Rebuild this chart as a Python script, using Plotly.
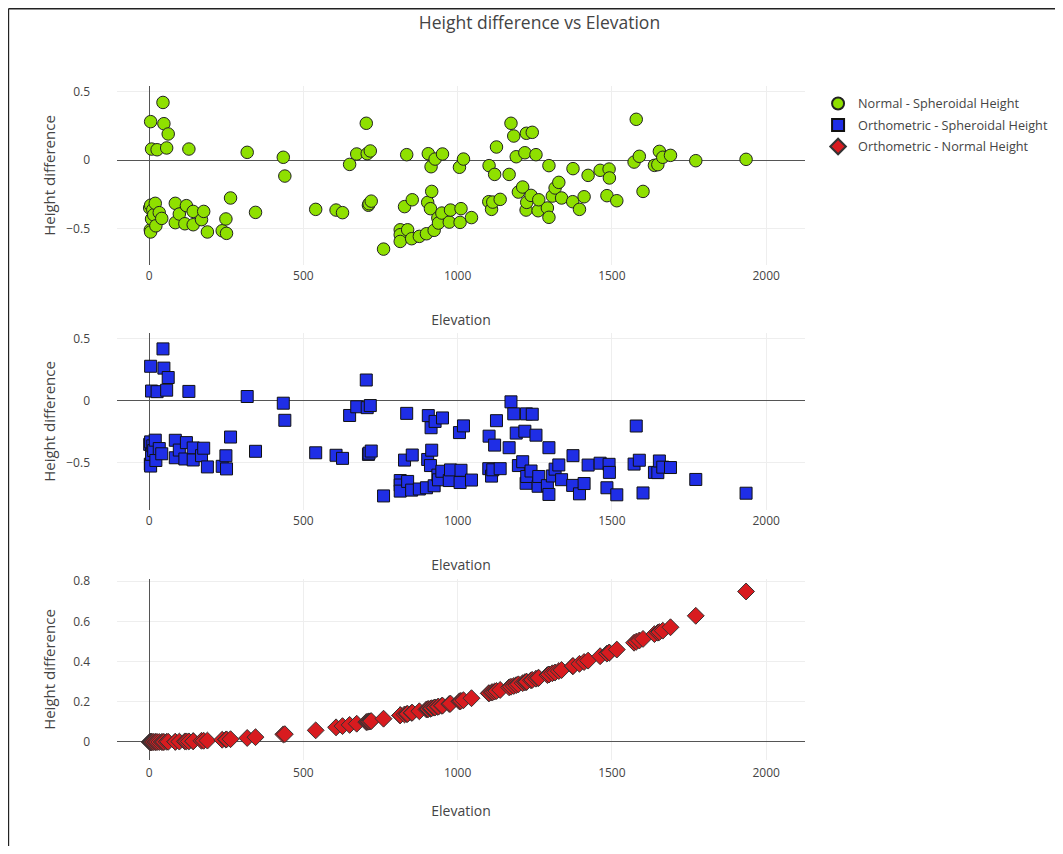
import plotly.graph_objects as go

elevation = [2, 4, 5, 5, 5, 8, 8, 12, 15, 20, 22, 26, 33, 41, 45, 48, 57, 62, 85, 85,
             98, 116, 121, 129, 143, 143, 170, 177, 189, 237, 249, 251, 264, 318, 345, 435, 440,
             540, 606, 627, 650, 673, 704, 707, 711, 713, 717, 720, 760, 814, 814, 814, 828, 835,
             838, 851, 853, 876, 899, 903, 905, 912, 914, 916, 924, 927, 936, 938, 949, 951, 973,
             977, 1006, 1008, 1011, 1019, 1045, 1101, 1102, 1110, 1114, 1120, 1126, 1138, 1167,
             1173, 1182, 1190, 1197, 1211, 1218, 1222, 1223, 1224, 1238, 1242, 1254, 1261, 1263,
             1291, 1296, 1296, 1307, 1316, 1328, 1337, 1373, 1374, 1395, 1410, 1423, 1462, 1484,
             1491, 1492, 1516, 1572, 1579, 1589, 1601, 1638, 1649, 1654, 1665, 1690, 1772, 1935]

normal_spheroidal = [-0.35, -0.51, 0.28, -0.525, -0.33, 0.08, -0.43, -0.362, -0.40, -0.316, -0.48,
                     0.075, -0.384, -0.426, 0.42, 0.265, 0.088, 0.19, -0.316, -0.457,
                     -0.394, -0.465, -0.333, 0.08, -0.375, -0.472, -0.435, -0.375, -0.525, -0.516,
                     -0.43, -0.535, -0.277, 0.056, -0.382, 0.02, -0.117,
                     -0.36, -0.365, -0.384, -0.032, 0.044, 0.268, 0.046, -0.33, -0.319, 0.066, -0.30,
                     -0.65, -0.509, -0.545, -0.594, -0.34, 0.039,
                     -0.509, -0.574, -0.29, -0.557, -0.538, -0.309, 0.046, -0.355, -0.049, -0.229,
                     -0.513, 0.007, -0.423, -0.46, -0.387, 0.044, -0.453,
                     -0.365, -0.053, -0.455, -0.355, 0.007, -0.42, -0.304, -0.041, -0.36, -0.307,
                     -0.105, 0.095, -0.287, -0.105,
                     0.268, 0.175, 0.024, -0.234, -0.197, 0.053, -0.365, 0.195, -0.309, -0.258, 0.202,
                     0.039, -0.37, -0.29,
                     -0.35, -0.041, -0.418, -0.263, -0.204, -0.163, -0.277, -0.304, -0.063, -0.36,
                     -0.268, -0.112, -0.075, -0.26,
                     -0.066, -0.131, -0.297, -0.015, 0.297, 0.027, -0.229, -0.039, -0.034, 0.063,
                     0.02, 0.034, -0.005, 0.005]

orthometric_spheroidal = [-0.35, -0.51, 0.28, -0.525, -0.33, 0.08, -0.43, -0.362, -0.40, -0.316, -0.48,
                          0.075, -0.384, -0.426, 0.42, 0.265, 0.087, 0.189, -0.317, -0.458,
                          -0.396, -0.468, -0.336, 0.077, -0.379, -0.476, -0.441, -0.381, -0.532, -0.527,
                          -0.442, -0.548, -0.291, 0.036, -0.406, -0.018, -0.156,
                          -0.418, -0.438, -0.463, -0.117, -0.047, 0.169, -0.054, -0.431, -0.421, -0.037,
                          -0.404, -0.766, -0.642, -0.678, -0.727, -0.477, -0.100,
                          -0.649, -0.719, -0.436, -0.710, -0.700, -0.472, -0.118, -0.521, -0.216, -0.397,
                          -0.684, -0.165, -0.598, -0.636, -0.567, -0.137, -0.642,
                          -0.556, -0.255, -0.658, -0.559, -0.201, -0.638, -0.546, -0.284, -0.606, -0.555,
                          -0.356, -0.159, -0.546, -0.377,
                          -0.007, -0.104, -0.259, -0.521, -0.490, -0.244, -0.664, -0.104, -0.609, -0.565,
                          -0.107, -0.276, -0.688, -0.609,
                          -0.683, -0.377, -0.754, -0.605, -0.550, -0.516, -0.635, -0.681, -0.441, -0.749,
                          -0.666, -0.517, -0.502, -0.700,
                          -0.511, -0.576, -0.757, -0.509, -0.202, -0.478, -0.742, -0.576, -0.578, -0.484,
                          -0.534, -0.537, -0.633, -0.744]

orthometric_normal = [0.0, 0.0, 0.0, 0.0, 0.0, 0.0, 0.0, 0.0, 0.0, 0.0, 0.0, 0.0, 0.0, 0.0, 0.0, 0.0,
                      0.001, 0.001, 0.001, 0.001,
                      0.002, 0.003, 0.003, 0.003, 0.004, 0.004, 0.006, 0.006, 0.007, 0.011, 0.012,
                      0.013, 0.014, 0.020, 0.024, 0.038, 0.039,
                      0.058, 0.073, 0.079, 0.085, 0.091, 0.099, 0.100, 0.101, 0.102, 0.103, 0.104,
                      0.116, 0.133, 0.133, 0.133, 0.137, 0.139,
                      0.140, 0.145, 0.146, 0.153, 0.162, 0.163, 0.164, 0.166, 0.167, 0.168, 0.171,
                      0.172, 0.175, 0.176, 0.180, 0.181, 0.189,
                      0.191, 0.202, 0.203, 0.204, 0.208, 0.218, 0.242, 0.243, 0.246, 0.248, 0.251,
                      0.254, 0.259, 0.272,
                      0.275, 0.279, 0.283, 0.287, 0.293, 0.297, 0.299, 0.299, 0.300, 0.307, 0.309,
                      0.315, 0.318, 0.319,
                      0.333, 0.336, 0.336, 0.342, 0.346, 0.353, 0.358, 0.377, 0.378, 0.389, 0.398,
                      0.405, 0.427, 0.440,
                      0.445, 0.445, 0.460, 0.494, 0.499, 0.505, 0.513, 0.537, 0.544, 0.547, 0.554,
                      0.571, 0.628, 0.749]

series_names = ["Normal - Spheroidal Height", "Orthometric - Spheroidal Height",
                "Orthometric - Normal Height"]
x_ticks = [0, 500, 1000, 1500, 2000]

FONT = "Open Sans, DejaVu Sans, sans-serif"
TXT = "#444444"

fig = go.Figure()
fig.add_trace(go.Scatter(x=elevation, y=normal_spheroidal, mode="markers", name=series_names[0],
                         legendgroup="a",
                         marker=dict(symbol="circle", size=12.5, color="#8fe000",
                                     line=dict(color="#222222", width=1)),
                         xaxis="x", yaxis="y"))
fig.add_trace(go.Scatter(x=elevation, y=orthometric_spheroidal, mode="markers", name=series_names[1],
                         legendgroup="b",
                         marker=dict(symbol="square", size=12, color="#1f2ee6",
                                     line=dict(color="#111111", width=1)),
                         xaxis="x2", yaxis="y2"))
fig.add_trace(go.Scatter(x=elevation, y=orthometric_normal, mode="markers", name=series_names[2],
                         legendgroup="c",
                         marker=dict(symbol="diamond", size=13, color="#d81b1f",
                                     line=dict(color="#333333", width=1)),
                         xaxis="x3", yaxis="y3"))

def xax(anchor, lab_standoff=2, title_standoff=32):
    return dict(anchor=anchor, domain=[0, 1], range=[-104, 2126], tickvals=x_ticks,
                showgrid=True, gridcolor="#eeeeee", zeroline=True, zerolinecolor="#555555",
                zerolinewidth=1, showline=False, ticks="", ticklabelstandoff=lab_standoff,
                tickfont=dict(size=12, color=TXT, family=FONT),
                title=dict(text="Elevation", font=dict(size=14, color=TXT, family=FONT),
                           standoff=title_standoff))

def yax(anchor, dom, rng, dtick, title_standoff=6):
    return dict(anchor=anchor, domain=dom, range=rng, dtick=dtick,
                showgrid=True, gridcolor="#eeeeee", zeroline=True, zerolinecolor="#555555",
                zerolinewidth=1, showline=False, ticks="", ticklabelstandoff=26,
                tickfont=dict(size=12, color=TXT, family=FONT),
                title=dict(text="Height difference", font=dict(size=15, color=TXT, family=FONT),
                           standoff=title_standoff))

fig.update_layout(
    width=1047, height=838,
    margin=dict(l=109, r=250, t=78, b=86, autoexpand=False),
    paper_bgcolor="white", plot_bgcolor="white",
    font=dict(family=FONT, size=12, color=TXT),
    title=dict(text="Height difference vs Elevation", x=0.5076, xref="container", xanchor="center",
               y=1 - 15 / 838, yref="container", yanchor="middle",
               font=dict(size=17.5, color=TXT, family=FONT)),
    xaxis=xax("y"), xaxis2=xax("y2"), xaxis3=xax("y3", 4, 26),
    yaxis=yax("x", [0.7344, 1.0], [-0.766, 0.540], 0.5),
    yaxis2=yax("x2", [0.371, 0.6335], [-0.879, 0.548], 0.5),
    yaxis3=yax("x3", [0.0, 0.2685], [-0.0896, 0.811], 0.2, 13),
    legend=dict(x=1.019, xanchor="left", y=0.996, yanchor="top",
                font=dict(size=12.7, color=TXT, family=FONT), tracegroupgap=2,
                itemsizing="constant"),
    showlegend=True,
    shapes=[
        dict(type="line", xref="paper", yref="paper", x0=-0.1578, x1=1.4, y0=1.1146, y1=1.1146,
             line=dict(color="#222222", width=1.5)),
        dict(type="line", xref="paper", yref="paper", x0=-0.1578, x1=-0.1578, y0=-0.15, y1=1.1146,
             line=dict(color="#222222", width=1.5)),
    ],
)

fig.write_html("out.html")
